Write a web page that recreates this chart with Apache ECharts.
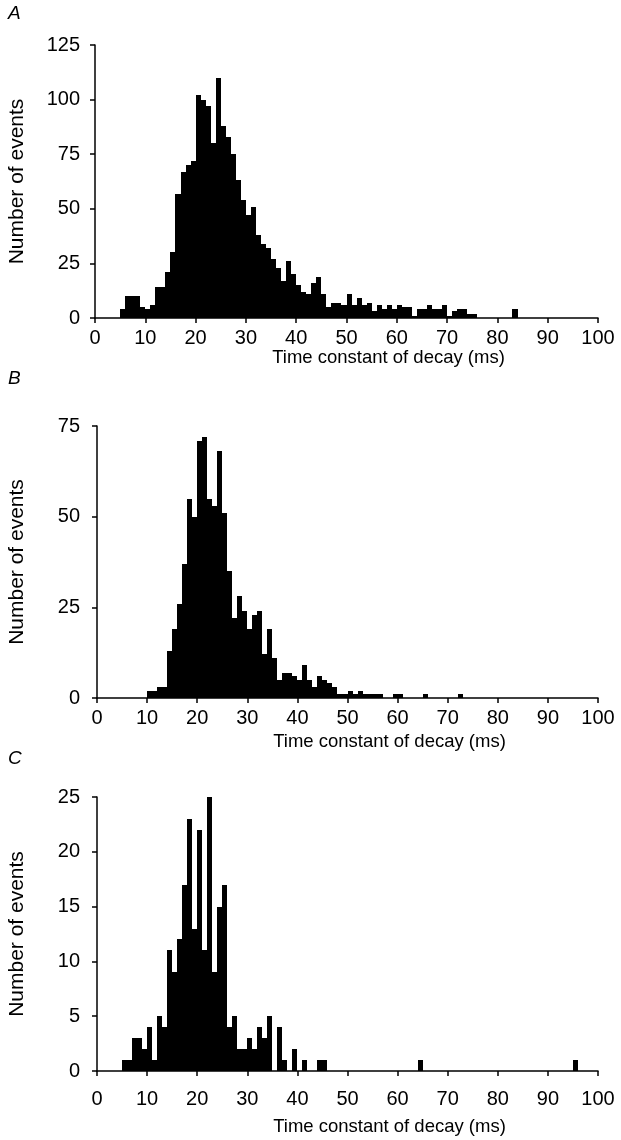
<!DOCTYPE html>
<html><head><meta charset="utf-8">
<script src="https://cdn.jsdelivr.net/npm/echarts@6/dist/echarts.min.js"></script>
<style>html,body{margin:0;padding:0;background:#fff}#c{width:621px;height:1140px}</style>
</head><body><div id="c"></div>
<script>
// Number of events per 1 ms bin; index = bin start (ms), 0..99
const countsA = [
  0,0,0,0,0, 4,10,10,10,5,
  4,6,14,14,21, 30,57,67,70,72,
  102,100,97,80,110, 88,83,75,63,54,
  47,51,38,34,32, 27,23,17,26,20,
  15,12,11,16,19, 11,5,7,7,6,
  11,6,9,6,7, 3,6,4,6,4,
  6,5,5,1,4, 4,6,4,4,6,
  1,3,4,4,2, 2,0,0,0,0,
  0,0,0,4,0, 0,0,0,0,0,
  0,0,0,0,0, 0,0,0,0,0
];
const countsB = [
  0,0,0,0,0, 0,0,0,0,0,
  2,2,3,3,13, 19,26,37,55,50,
  71,72,55,53,68, 51,35,22,28,24,
  19,23,24,12,19, 11,5,7,7,6,
  5,9,5,3,6, 5,4,3,1,1,
  2,1,2,1,1, 1,1,0,0,1,
  1,0,0,0,0, 1,0,0,0,0,
  0,0,1,0,0, 0,0,0,0,0,
  0,0,0,0,0, 0,0,0,0,0,
  0,0,0,0,0, 0,0,0,0,0
];
const countsC = [
  0,0,0,0,0, 1,1,3,3,2,
  4,1,5,4,11, 9,12,17,23,13,
  22,11,25,9,15, 17,4,5,2,2,
  3,2,4,3,5, 0,4,1,0,2,
  0,1,0,0,1, 1,0,0,0,0,
  0,0,0,0,0, 0,0,0,0,0,
  0,0,0,0,1, 0,0,0,0,0,
  0,0,0,0,0, 0,0,0,0,0,
  0,0,0,0,0, 0,0,0,0,0,
  0,0,0,0,0, 1,0,0,0,0
];
const panelLetters = ['A', 'B', 'C'];
const yMaxes = [125, 75, 25];
const ySteps = [25, 25, 5];
const xMin = 0, xMax = 100, xStep = 10;
const binWidth = 1;
const xTitle = 'Time constant of decay (ms)';
const yTitle = 'Number of events';

// layout (kept separate from data)
const gridBoxes = [
  {left: 95, top: 45, width: 503, height: 273},
  {left: 97, top: 426, width: 501, height: 272},
  {left: 97, top: 797, width: 501, height: 274}
];
const xLabelMargins = [10, 10, 18];
const xNameGaps = [30, 34, 46];
const yLabelMargins = [15, 17, 17];
const letterTops = [4, 369, 749];

const FONT = 'Liberation Sans, Arial, Helvetica, sans-serif';
const allCounts = [countsA, countsB, countsC];

const chart = echarts.init(document.getElementById('c'), null, {renderer: 'canvas'});

const option = {
  animation: false,
  backgroundColor: '#fff',
  grid: gridBoxes.map(g => Object.assign({containLabel: false, outerBoundsMode: 'none'}, g)),
  xAxis: allCounts.map((c, i) => ({
    gridIndex: i, type: 'value', min: xMin, max: xMax, interval: xStep,
    axisLine: {show: true, onZero: false, lineStyle: {color: '#000', width: 1.5}},
    axisTick: {show: true, inside: false, length: 5, lineStyle: {color: '#000', width: 1.5}},
    axisLabel: {color: '#000', fontSize: 20, fontFamily: FONT, margin: xLabelMargins[i]},
    splitLine: {show: false},
    name: xTitle, nameLocation: 'middle', nameGap: xNameGaps[i],
    nameTextStyle: {color: '#000', fontSize: 18.5, fontFamily: FONT, padding: [0, 0, 0, 84]}
  })),
  yAxis: allCounts.map((c, i) => ({
    gridIndex: i, type: 'value', min: 0, max: yMaxes[i], interval: ySteps[i],
    axisLine: {show: true, onZero: false, lineStyle: {color: '#000', width: 1.5}},
    axisTick: {show: true, inside: false, length: 5, lineStyle: {color: '#000', width: 1.5}},
    axisLabel: {color: '#000', fontSize: 20, fontFamily: FONT, margin: yLabelMargins[i]},
    splitLine: {show: false},
    name: yTitle, nameLocation: 'middle', nameGap: 67 + (gridBoxes[i].left - 95), nameRotate: 90,
    nameTextStyle: {color: '#000', fontSize: 21, fontFamily: FONT}
  })),
  graphic: panelLetters.map((t, i) => ({
    type: 'text', left: 8, top: letterTops[i],
    style: {text: t, fill: '#000', font: 'italic 19px ' + FONT}
  })),
  series: allCounts.map((counts, i) => ({
    type: 'custom', xAxisIndex: i, yAxisIndex: i,
    data: counts.map((v, k) => [k * binWidth, v]).filter(d => d[1] > 0),
    renderItem: function (params, api) {
      const x0 = api.value(0), v = api.value(1);
      const a = api.coord([x0, 0]);
      const b = api.coord([x0 + binWidth, v]);
      const left = Math.round(a[0]), right = Math.round(b[0]);
      const top = Math.round(b[1]), bottom = Math.round(a[1]);
      return {
        type: 'rect',
        shape: {x: left, y: top, width: right - left, height: bottom - top},
        style: {fill: '#000'}
      };
    }
  }))
};
chart.setOption(option);
</script>
</body></html>
